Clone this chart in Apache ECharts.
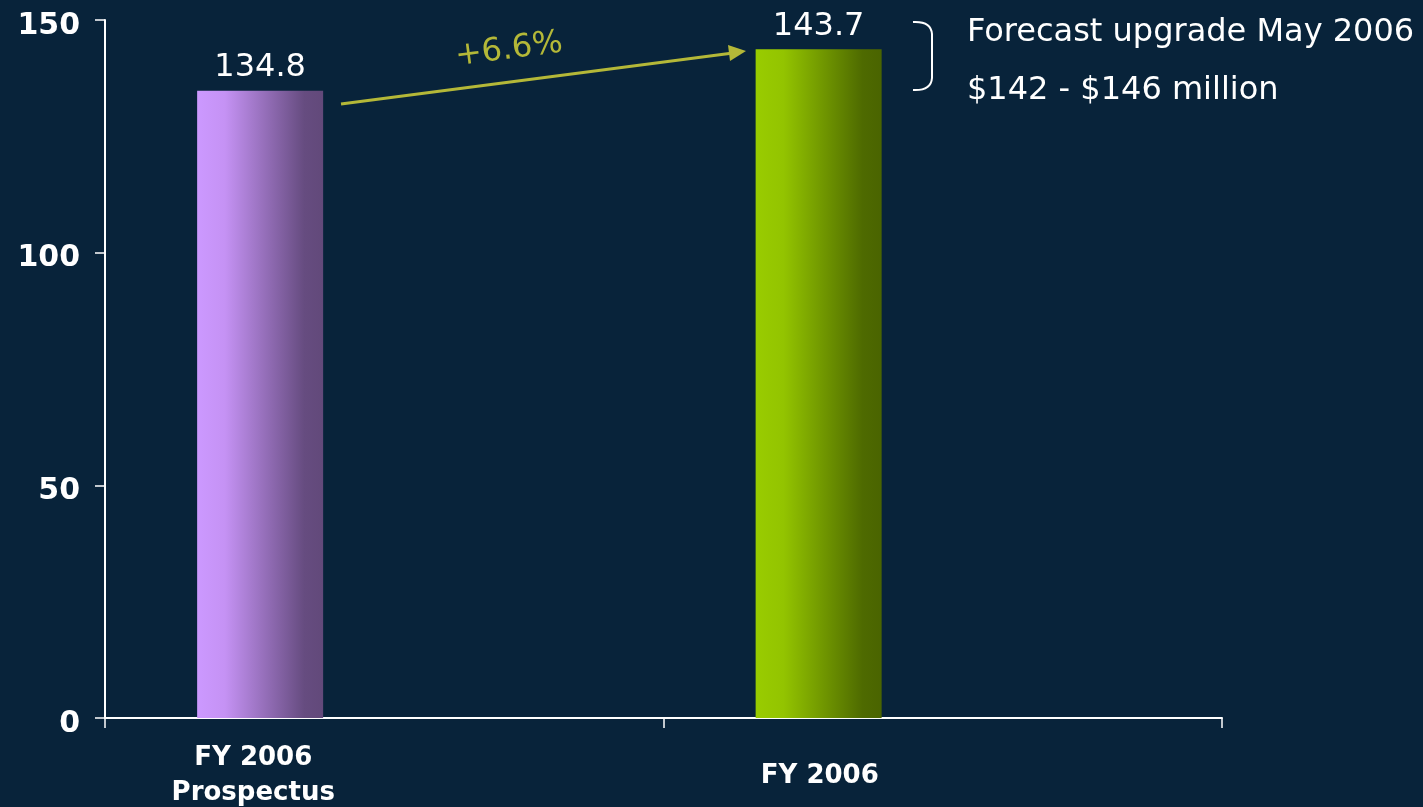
<!DOCTYPE html>
<html>
<head>
<meta charset="utf-8">
<script src="https://cdn.jsdelivr.net/npm/echarts@6/dist/echarts.min.js"></script>
<style>
html,body{margin:0;padding:0;background:#08233a;}
#chart{width:1423px;height:807px;}
</style>
</head>
<body>
<div id="chart"></div>
<script>
const categories = ['FY 2006\nProspectus', 'FY 2006'];
const values = [134.8, 143.7];
const yTicks = [0, 50, 100, 150];
const changeLabel = '+6.6%';
const forecastLines = ['Forecast upgrade May 2006', '$142 - $146 million'];

const FONT = 'DejaVu Sans';
const gradPurple = new echarts.graphic.LinearGradient(0, 0, 1, 0, [
  {offset: 0, color: '#cc99ff'}, {offset: 0.22, color: '#c592f4'},
  {offset: 0.85, color: '#664c80'}, {offset: 1, color: '#62497a'}
]);
const gradGreen = new echarts.graphic.LinearGradient(0, 0, 1, 0, [
  {offset: 0, color: '#99cc00'}, {offset: 0.22, color: '#93c400'},
  {offset: 0.85, color: '#4e6a00'}, {offset: 1, color: '#4a6400'}
]);
const barColors = [gradPurple, gradGreen];
const arrowColor = '#b4b838';
const bracketStyle = {stroke: '#ffffff', lineWidth: 2, fill: null};
const xLabelBase = {color: '#ffffff', fontFamily: FONT, fontWeight: 'bold', fontSize: 26, lineHeight: 35};

const chart = echarts.init(document.getElementById('chart'));
chart.setOption({
  backgroundColor: '#08233a',
  animation: false,
  grid: {left: 105, right: 201, top: 20, bottom: 89, containLabel: false, outerBoundsMode: 'none'},
  xAxis: {
    type: 'category',
    data: categories,
    axisLine: {lineStyle: {color: '#ffffff', width: 2}},
    axisTick: {show: true, length: 10, lineStyle: {color: '#ffffff', width: 1.5}},
    axisLabel: {
      color: '#ffffff', fontFamily: FONT, fontWeight: 'bold', fontSize: 26,
      lineHeight: 35, verticalAlign: 'middle', margin: 58,
      formatter: (v, i) => v.split('\n').map(s => '{' + (i === 0 ? 'a' : 'b') + '|' + s + '}').join('\n'),
      rich: {
        a: Object.assign({padding: [0, 262, 0, 0]}, xLabelBase),
        b: Object.assign({padding: [0, 246, 0, 0]}, xLabelBase)
      }
    },
    splitLine: {show: false}
  },
  yAxis: {
    type: 'value',
    min: yTicks[0], max: yTicks[yTicks.length - 1], interval: 50,
    axisLine: {show: true, lineStyle: {color: '#ffffff', width: 2}},
    axisTick: {show: true, length: 10, lineStyle: {color: '#ffffff', width: 1.5}},
    axisLabel: {
      color: '#ffffff', fontFamily: FONT, fontWeight: 'bold', fontSize: 30, margin: 25,
      formatter: v => '{v|' + v + '}',
      rich: {v: {color: '#ffffff', fontFamily: FONT, fontWeight: 'bold', fontSize: 30,
                 padding: [12, 0, 0, 0]}}
    },
    splitLine: {show: false}
  },
  series: [
    {
      type: 'bar',
      barWidth: 126,
      barGap: '97%',
      data: values.map((v, i) => ({value: v, itemStyle: {color: barColors[i]}})),
      label: {
        show: true, position: 'top', distance: 7,
        color: '#ffffff', fontFamily: FONT, fontSize: 32,
        formatter: p => p.value.toFixed(1)
      }
    },
    {
      type: 'bar',
      barWidth: 126,
      data: values.map(() => '-')
    }
  ],
  graphic: [
    {type: 'line', shape: {x1: 341, y1: 104, x2: 733, y2: 53},
     style: {stroke: arrowColor, lineWidth: 3}},
    {type: 'polygon', shape: {points: [[746, 51], [728, 45], [730, 61]]},
     style: {fill: arrowColor}},
    {type: 'text', x: 509, y: 50, rotation: 0.13, originX: 0, originY: 0,
     style: {text: changeLabel, fill: arrowColor, font: '32px "DejaVu Sans"',
             textAlign: 'center', textVerticalAlign: 'middle'}},
    {type: 'bezierCurve', shape: {x1: 913, y1: 22, x2: 932, y2: 34, cpx1: 931, cpy1: 21},
     style: bracketStyle},
    {type: 'line', shape: {x1: 932, y1: 34, x2: 932, y2: 78}, style: bracketStyle},
    {type: 'bezierCurve', shape: {x1: 932, y1: 78, x2: 913, y2: 90, cpx1: 931, cpy1: 91},
     style: bracketStyle},
    {type: 'text', x: 967, y: 33,
     style: {text: forecastLines[0], fill: '#ffffff', font: '32px "DejaVu Sans"',
             textAlign: 'left', textVerticalAlign: 'middle'}},
    {type: 'text', x: 967, y: 91,
     style: {text: forecastLines[1], fill: '#ffffff', font: '32px "DejaVu Sans"',
             textAlign: 'left', textVerticalAlign: 'middle'}}
  ]
});
</script>
</body>
</html>
